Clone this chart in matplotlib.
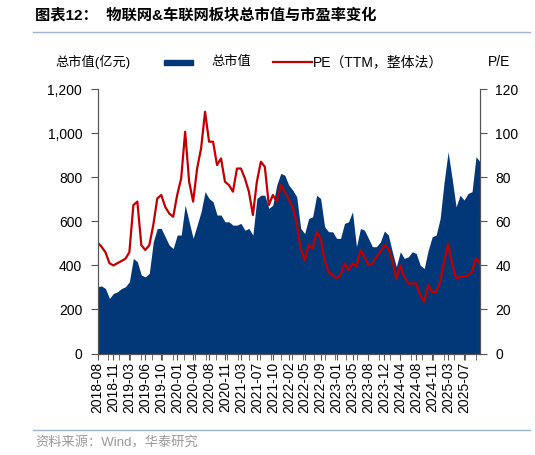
import numpy as np
import matplotlib.pyplot as plt
from matplotlib.patches import Rectangle
from matplotlib.lines import Line2D
from matplotlib.ticker import FuncFormatter, MultipleLocator

plt.rcParams['font.family'] = ['Liberation Sans', 'Noto Sans CJK SC', 'DejaVu Sans']

# x tick labels (every 4th sample)
tick_labels = ['2018-08', '2018-11', '2019-03', '2019-06', '2019-10', '2020-01',
               '2020-04', '2020-08', '2020-11', '2021-03', '2021-07', '2021-10',
               '2022-02', '2022-05', '2022-09', '2023-01', '2023-05', '2023-08',
               '2023-12', '2024-04', '2024-08', '2024-11', '2025-03', '2025-07']

# total market cap (100m CNY)
market_cap = [303, 307, 295, 250, 273, 280, 295, 303, 326, 432,
              417, 356, 348, 364, 507, 568, 568, 530, 492, 477,
              538, 538, 674, 598, 523, 583, 644, 735, 704, 689,
              629, 629, 598, 598, 583, 583, 591, 560, 568, 538,
              704, 719, 719, 659, 674, 765, 818, 810, 765, 742,
              712, 568, 545, 613, 621, 719, 704, 576, 553, 553,
              523, 523, 591, 598, 644, 485, 568, 560, 523, 485,
              485, 507, 556, 538, 462, 394, 462, 432, 439, 462,
              454, 401, 386, 469, 530, 538, 613, 780, 916, 795,
              666, 719, 697, 727, 735, 894, 871]

# PE (TTM)
pe_ttm = [50.5, 48.5, 46.0, 41.0, 40.0, 41.0, 42.0, 43.0, 46.0, 67.4,
          69.0, 49.2, 47.0, 49.2, 58.3, 70.4, 72.0, 66.6, 63.6, 62.1,
          72.0, 79.5, 100.7, 78.0, 69.0, 84.0, 93.2, 109.8, 96.2, 96.2,
          85.6, 88.6, 78.0, 76.5, 73.5, 84.0, 84.0, 79.5, 73.5, 62.9,
          78.0, 87.1, 84.8, 67.4, 72.0, 69.0, 76.5, 73.5, 70.0, 66.6,
          59.1, 47.7, 42.4, 49.2, 47.7, 55.3, 52.3, 42.4, 37.1, 35.6,
          34.1, 35.6, 40.9, 37.9, 40.9, 39.4, 47.0, 43.9, 40.1, 40.9,
          43.9, 46.2, 49.2, 47.7, 42.4, 33.8, 40.1, 34.8, 31.8, 31.8,
          31.8, 26.5, 23.5, 31.1, 28.0, 28.0, 32.6, 41.7, 50.0, 40.9,
          34.1, 34.8, 34.8, 35.6, 37.1, 43.2, 40.9]

navy = '#023877'
red = '#C00000'
rule = '#9DB3CE'
W, H = 535, 455

x = np.arange(len(market_cap))

fig = plt.figure(figsize=(W / 100, H / 100), dpi=100)
ax = fig.add_axes([97.5 / W, 1 - 353.5 / H, (480 - 97.5) / W, (353.5 - 89.3) / H])
ax.fill_between(x, market_cap, color=navy, lw=0)
ax.set_xlim(0, len(market_cap) - 1)
ax.set_ylim(0, 1200)
ax.set_yticks(np.arange(0, 1201, 200))
ax.yaxis.set_major_formatter(FuncFormatter(lambda v, p: f'{int(v):,}'))
ax.set_xticks(np.arange(0, 4 * len(tick_labels), 4))
ax.set_xticklabels(tick_labels, rotation=90, fontsize=10)
ax.xaxis.set_minor_locator(MultipleLocator(2.715))
ax.tick_params(axis='y', labelsize=10, length=5, color='#555555', pad=6)
ax.tick_params(axis='x', which='both', length=4, color='#555555', pad=2)

ax2 = ax.twinx()
ax2.plot(x, pe_ttm, color=red, lw=1.6)
ax2.set_ylim(0, 120)
ax2.set_yticks(np.arange(0, 121, 20))
ax2.tick_params(axis='y', labelsize=10, length=5, color='#555555', pad=6)

for a in (ax, ax2):
    a.spines['top'].set_visible(False)
    for s in ('left', 'right', 'bottom'):
        a.spines[s].set_color('#555555')

# title and rules
fig.text(35 / W, 1 - 15 / H, '图表12：  物联网&车联网板块总市值与市盈率变化',
         fontsize=11, fontweight='bold', va='center', ha='left')
fig.add_artist(Line2D([33 / W, 530 / W], [1 - 32 / H, 1 - 32 / H], color=rule, lw=1))
fig.add_artist(Line2D([33 / W, 530 / W], [1 - 430 / H, 1 - 430 / H], color=rule, lw=1))
fig.text(35 / W, 1 - 443 / H, '资料来源：Wind，华泰研究', fontsize=9.5,
         color='#999999', va='center', ha='left')

# legend row and axis titles
ly = 1 - 62 / H
fig.text(55 / W, ly, '总市值(亿元)', fontsize=9.5, va='center', ha='left')
fig.add_artist(Rectangle((164 / W, ly - 2.5 / H), 29 / W, 5 / H, color=navy,
                         transform=fig.transFigure))
fig.text(211 / W, ly, '总市值', fontsize=9.5, va='center', ha='left')
fig.add_artist(Line2D([273 / W, 312 / W], [ly, ly], color=red, lw=1.6))
fig.text(313 / W, ly, 'PE（TTM，整体法）', fontsize=10, va='center', ha='left')
fig.text(488 / W, ly, 'P/E', fontsize=10, va='center', ha='left')

fig.savefig('out.png', dpi=100)
